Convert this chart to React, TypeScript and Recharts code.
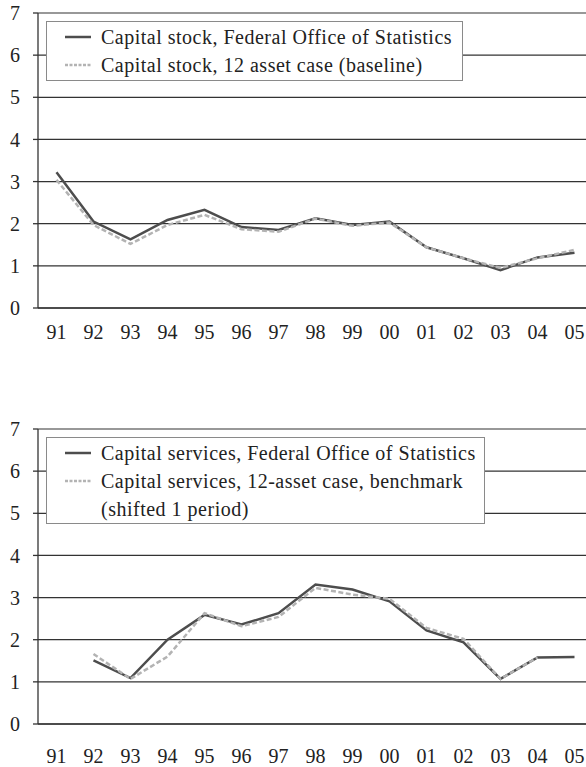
import React from 'react';
import { LineChart, Line, XAxis, YAxis, CartesianGrid, Legend } from 'recharts';

const years = ['91', '92', '93', '94', '95', '96', '97', '98', '99', '00', '01', '02', '03', '04', '05'];
const stockFos = [3.22, 2.05, 1.63, 2.09, 2.33, 1.92, 1.85, 2.13, 1.97, 2.05, 1.44, 1.18, 0.9, 1.2, 1.31];
const stock12 = [3.04, 1.97, 1.52, 1.97, 2.21, 1.87, 1.81, 2.12, 1.95, 2.03, 1.44, 1.18, 0.95, 1.18, 1.38];
const servFos = [null, 1.51, 1.09, 2.0, 2.59, 2.36, 2.63, 3.31, 3.19, 2.91, 2.22, 1.94, 1.07, 1.58, 1.59];
const serv12 = [null, 1.66, 1.07, 1.6, 2.63, 2.32, 2.54, 3.23, 3.07, 2.97, 2.28, 2.02, 1.07, 1.58, null];
const yTicks = [0, 1, 2, 3, 4, 5, 6, 7];

const FONT = '"Liberation Serif", "Times New Roman", "DejaVu Serif", serif';
const DARK = '#4d4d4d';
const LIGHT = '#b3b3b3';
const AXIS = '#333';

const centers = years.map((_, i) => i);
const bounds = [...years.map((_, i) => i - 0.5), years.length - 0.5];

const stockData = years.map((y, i) => ({ x: i, year: y, fos: stockFos[i], a12: stock12[i] }));
const servData = years.map((y, i) => ({ x: i, year: y, fos: servFos[i], a12: serv12[i] }));

const tickStyle = { fontFamily: FONT, fontSize: 20, fill: '#222' };

type Item = { text: string; dashed: boolean | null };

const LegendBox = ({ labels, width, height }: { labels: Item[]; width: number; height: number }) => (
  <div
    style={{
      width,
      height,
      boxSizing: 'border-box',
      border: '1px solid #8a8a8a',
      background: '#fff',
      paddingTop: 1,
      fontFamily: FONT,
      fontSize: 20,
      letterSpacing: 0.5,
      color: '#222',
    }}
  >
    {labels.map((l, i) => (
      <div key={i} style={{ display: 'flex', alignItems: 'center', height: 28, lineHeight: '28px', whiteSpace: 'nowrap' }}>
        {l.dashed !== null ? (
          <svg width={54} height={28} style={{ flex: 'none' }}>
            <line
              x1={18}
              x2={44}
              y1={14}
              y2={14}
              stroke={l.dashed ? LIGHT : DARK}
              strokeWidth={2.5}
              strokeDasharray={l.dashed ? '3 1.5' : undefined}
            />
          </svg>
        ) : (
          <span style={{ width: 54, flex: 'none' }} />
        )}
        <span>{l.text}</span>
      </div>
    ))}
  </div>
);

const Panel = ({ data, top, labelGap, legend }: { data: any[]; top: number; labelGap: number; legend: React.ReactNode }) => (
  <div style={{ position: 'absolute', left: 0, top }}>
    <LineChart width={600} height={355} data={data} margin={{ top: 13, right: 7, left: 0, bottom: 0 }}>
      <CartesianGrid horizontal vertical={false} stroke={AXIS} strokeWidth={1.2} />
      <XAxis
        dataKey="x"
        type="number"
        domain={[-0.5, years.length - 0.5]}
        ticks={bounds}
        tick={false}
        tickSize={7}
        height={7}
        stroke={AXIS}
        strokeWidth={1.3}
        allowDataOverflow
      />
      <XAxis
        xAxisId="lab"
        dataKey="x"
        type="number"
        domain={[-0.5, years.length - 0.5]}
        ticks={centers}
        tickFormatter={(v: number) => years[v]}
        axisLine={false}
        tickLine={false}
        tickSize={0}
        tickMargin={labelGap}
        height={40}
        interval={0}
        tick={tickStyle}
      />
      <YAxis
        domain={[0, 7]}
        ticks={yTicks}
        width={38}
        tickSize={5}
        tickMargin={13}
        stroke={AXIS}
        strokeWidth={1.3}
        tick={tickStyle}
        interval={0}
      />
      <Legend
        layout="vertical"
        align="center"
        verticalAlign="middle"
        wrapperStyle={{ top: 0, left: 0 }}
        content={() => legend}
      />
      <Line dataKey="fos" stroke={DARK} strokeWidth={2.5} dot={false} isAnimationActive={false} />
      <Line dataKey="a12" stroke={LIGHT} strokeWidth={2.5} strokeDasharray="5 2.5" dot={false} isAnimationActive={false} />
    </LineChart>
  </div>
);

export default function App() {
  return (
    <div style={{ position: 'absolute', left: 0, top: 0, width: 586, height: 767, overflow: 'hidden', background: '#fff' }}>
      <Panel
        data={stockData}
        top={0}
        labelGap={10}
        legend={
          <div style={{ position: 'absolute', left: 46, top: 21 }}>
            <LegendBox
              width={417}
              height={60}
              labels={[
                { text: 'Capital stock, Federal Office of Statistics', dashed: false },
                { text: 'Capital stock, 12 asset case (baseline)', dashed: true },
              ]}
            />
          </div>
        }
      />
      <Panel
        data={servData}
        top={416}
        labelGap={18}
        legend={
          <div style={{ position: 'absolute', left: 46, top: 21 }}>
            <LegendBox
              width={439}
              height={87}
              labels={[
                { text: 'Capital services, Federal Office of Statistics', dashed: false },
                { text: 'Capital services, 12-asset case, benchmark', dashed: true },
                { text: '(shifted 1 period)', dashed: null },
              ]}
            />
          </div>
        }
      />
    </div>
  );
}
